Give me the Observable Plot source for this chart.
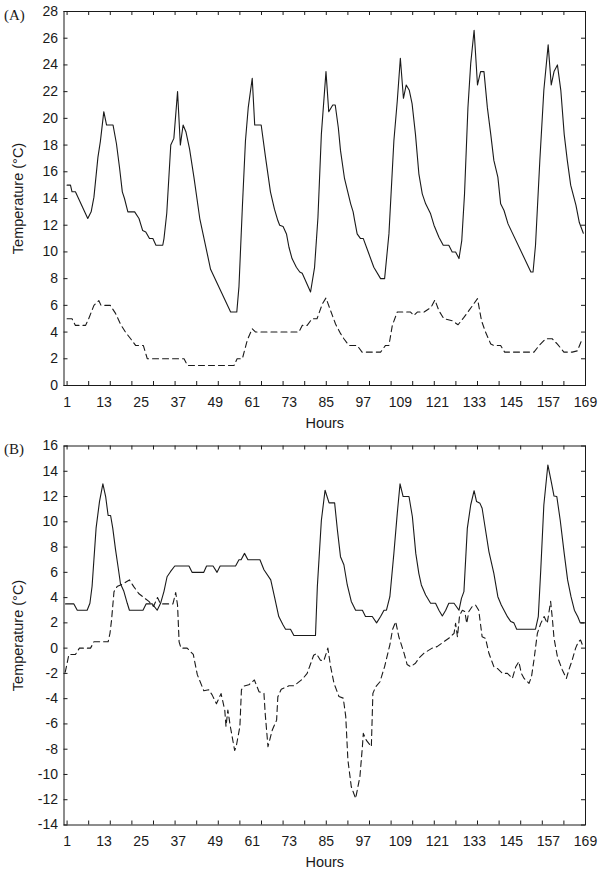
<!DOCTYPE html>
<html><head><meta charset="utf-8">
<script src="https://cdn.jsdelivr.net/npm/d3@7"></script>
<script src="https://cdn.jsdelivr.net/npm/@observablehq/plot@0.6"></script>
<style>
html,body{margin:0;padding:0;background:#fff;}
#chart svg{display:block;}
</style></head><body><div id="chart"></div>
<script>
// ---- Data ----
const xLabelTicks = [1, 13, 25, 37, 49, 61, 73, 85, 97, 109, 121, 133, 145, 157, 169];
const xMinorTicks = [1, 8, 15, 22, 29, 36, 43, 50, 57, 64, 71, 78, 85, 92, 99, 106, 113, 120, 127, 134, 141, 148, 155, 162, 169];
const yTicksA = [0, 2, 4, 6, 8, 10, 12, 14, 16, 18, 20, 22, 24, 26, 28];
const yTicksB = [-14, -12, -10, -8, -6, -4, -2, 0, 2, 4, 6, 8, 10, 12, 14, 16];

// Panel A, solid line
const aSolidHours = [1, 2.1, 2.6, 3.7, 7.7, 8.8, 9.7, 11, 11.8, 12.9, 13.8, 15.9, 17, 18, 18.9, 19.6, 20.7, 22.9, 24.3, 25.5, 26.5, 27.7, 28.8, 29.8, 32, 32.4, 33.3, 34.6, 35.6, 36.8, 37.7, 38.6, 39.5, 40.7, 42.1, 44, 47.5, 54, 56, 56.7, 57.8, 58.8, 59.7, 61, 61.8, 63.9, 65.3, 66.9, 68.2, 69.3, 69.9, 71, 72.1, 72.9, 73.9, 75.3, 76.4, 77.2, 79.9, 81.2, 82.3, 83.4, 84.9, 85.8, 87.1, 87.9, 88.9, 89.6, 90.9, 91.8, 92.9, 93.7, 94.2, 95, 96.1, 97, 98.8, 100.4, 102.6, 103.9, 105.3, 106.9, 108, 109, 110, 110.9, 111.9, 112.8, 113.9, 115, 116.1, 117.2, 118.8, 119.9, 121.5, 122.9, 124.7, 125.8, 126.9, 128, 128.9, 129.8, 130.9, 131.8, 132.9, 134, 135, 136.1, 137.2, 138.3, 139.3, 140.6, 141.5, 142.6, 143.9, 151.3, 152, 152.8, 154.2, 155.5, 156.9, 157.9, 158.8, 159.9, 161, 162.1, 163.1, 164.2, 165.9, 167, 168.3];
const aSolidTemps = [15, 15, 14.5, 14.5, 12.5, 13, 14.1, 17.1, 18.3, 20.5, 19.5, 19.5, 18.1, 16.3, 14.5, 14, 13, 13, 12.5, 11.6, 11.5, 11, 11, 10.5, 10.5, 11, 12.9, 18, 18.5, 22, 18, 19.5, 19, 17.7, 15.6, 12.5, 8.7, 5.5, 5.5, 7.4, 13.35, 18.3, 20.8, 23, 19.5, 19.5, 17.1, 14.5, 13.2, 12.35, 12, 11.9, 11.35, 10.35, 9.5, 8.85, 8.5, 8.4, 7, 8.85, 12.6, 18.8, 23.5, 20.5, 21, 21, 19.3, 17.6, 15.5, 14.65, 13.6, 13, 12.35, 11.35, 11, 11, 9.86, 8.85, 8, 8, 11.35, 18.3, 21.3, 24.5, 21.5, 22.5, 22.1, 21.1, 18.8, 15.85, 14.35, 13.6, 12.85, 12, 11.1, 10.5, 10.5, 10, 10, 9.5, 10.85, 14.35, 20.8, 24.1, 26.6, 22.5, 23.5, 23.5, 20.8, 18.8, 16.85, 15.6, 13.6, 13.1, 12.1, 8.5, 8.5, 10.5, 16.85, 22.1, 25.5, 22.5, 23.5, 24, 22.1, 18.8, 16.85, 15, 13.5, 12.2, 11.4];

// Panel A, dashed line
const aDashHours = [1, 2.6, 3.7, 7, 8, 9.7, 11.3, 12, 15, 16.7, 18.3, 19.9, 21.6, 23.2, 25.7, 27, 38.9, 40, 55.1, 56.1, 57.8, 59.4, 61, 62.1, 76.1, 77.2, 78.8, 80.4, 82, 83.7, 84.9, 86.4, 88, 89.6, 90.7, 92.3, 95, 96.6, 102.6, 104.2, 105.3, 106.4, 108, 112.3, 113.4, 114.5, 116.7, 118.3, 119.3, 120.2, 121.5, 123.1, 125.8, 127.7, 129.6, 131.2, 134, 135.3, 136.6, 138.3, 139.3, 141.5, 142.8, 152.3, 154, 156.1, 158.2, 159.9, 162, 164.7, 166.4, 167.6];
const aDashTemps = [5, 5, 4.5, 4.5, 5, 6, 6.35, 6, 6, 5.4, 4.6, 4, 3.5, 3, 3, 2, 2, 1.5, 1.5, 2, 2, 3.4, 4.25, 4, 4, 4.5, 4.5, 5, 5, 6.1, 6.55, 5.6, 4.6, 3.9, 3.5, 3, 3, 2.5, 2.5, 3, 3, 4.5, 5.5, 5.5, 5.25, 5.5, 5.5, 5.75, 6, 6.4, 5.6, 5, 4.85, 4.55, 5.1, 5.6, 6.5, 4.85, 4, 3.1, 3, 3, 2.5, 2.5, 3, 3.5, 3.5, 3.1, 2.5, 2.5, 2.6, 3.3];

// Panel B, solid line
const bSolidHours = [0.5, 3.2, 4.3, 7.5, 8.4, 9.1, 10.4, 11.5, 12.6, 13.5, 14.3, 15.1, 15.8, 16.7, 17.6, 18.3, 19.4, 20.5, 21.2, 25.6, 26.6, 28.6, 30.2, 31.3, 32.4, 33.4, 34.5, 35.9, 40.5, 41.5, 45.3, 46.2, 48.3, 49.6, 50.6, 55.6, 56.7, 57.4, 58.5, 59.6, 63.5, 64.8, 67, 68.2, 69.6, 71, 71.8, 73.4, 74.5, 81.5, 82.1, 83.4, 84.6, 85.9, 87.7, 88.6, 89.6, 90.7, 91.8, 93.1, 94.5, 96.7, 97.7, 99.9, 101.3, 102.6, 103.7, 104.5, 105.6, 106.9, 108, 108.9, 109.9, 111.8, 112.9, 114, 115, 115.8, 117.2, 118.8, 120.4, 121.5, 122.6, 123.7, 124.7, 126.4, 128, 128.8, 129.6, 130.7, 131.8, 132.9, 133.7, 134.8, 135.5, 136.6, 137.7, 139.3, 140.6, 141.7, 143.7, 144.8, 145.8, 146.7, 152.8, 153.7, 154.5, 155.5, 156.8, 157.9, 158.8, 159.7, 160.8, 162.1, 163.2, 164.3, 165.4, 166.5, 167.3, 168.5];
const bSolidTemps = [3.5, 3.5, 3, 3, 3.55, 4.9, 9.5, 11.6, 13, 12, 10.5, 10.5, 9.5, 7.8, 6.3, 5.1, 4.5, 3.55, 3, 3, 3.5, 3.5, 3, 3.55, 4.5, 5.65, 6.05, 6.5, 6.5, 6, 6, 6.5, 6.5, 6, 6.5, 6.5, 7, 7, 7.5, 7, 7, 6.2, 5.4, 4.07, 2.5, 1.83, 1.5, 1.5, 1, 1, 4.87, 10.1, 12.5, 11.5, 11.5, 9.35, 7.24, 6.6, 5, 3.7, 3, 3, 2.5, 2.5, 2, 2.5, 3, 3, 4.07, 7.5, 10.67, 13, 12, 12, 10.4, 7.5, 5.9, 5, 4.2, 3.55, 3.55, 3, 2.55, 3, 3.55, 3.55, 3, 3.94, 4.47, 9.48, 11.33, 12.46, 11.6, 11.46, 11.07, 9.35, 7.64, 5.92, 4.07, 3.41, 2.49, 2.1, 2, 1.5, 1.5, 2.49, 6.18, 11.33, 14.5, 13.18, 12.04, 12, 10.14, 7.5, 5.4, 4.07, 3, 2.49, 2, 2];

// Panel B, dashed line
const bDashHours = [0.4, 1.6, 3.7, 5, 8.6, 9.7, 14.3, 14.9, 15.4, 16.2, 17.2, 18.3, 19.4, 21.2, 22.6, 24.3, 25.9, 27.5, 29, 30.3, 31.3, 35.3, 36.2, 36.8, 37.3, 37.9, 39.9, 41.9, 43.2, 45.3, 46.9, 48, 49.4, 50.9, 52.1, 52.5, 53.1, 53.9, 55.3, 55.8, 57, 57.5, 58.3, 59.9, 61.7, 63.2, 64.8, 65.2, 66.1, 67.5, 68.9, 69.3, 70.4, 72.9, 74.5, 77.2, 78.8, 80.9, 81.8, 83.1, 84.2, 85.5, 86.4, 87.5, 89.1, 90.5, 91.3, 92, 93.1, 94.5, 95.9, 96.7, 97, 98, 99.6, 100.1, 101, 102.4, 103.9, 105.6, 106.5, 107.5, 108.5, 110.2, 111.2, 112.3, 113.9, 115, 116.6, 119.3, 120.9, 123.1, 124.7, 126.4, 126.9, 127.5, 128.2, 129.1, 129.9, 130.5, 131.2, 132.3, 133.4, 134.4, 135.5, 136.6, 137.7, 139.3, 140.4, 142.1, 143.7, 145.3, 146.4, 147.4, 148.2, 149.1, 150.7, 151.5, 152.3, 153.4, 154.5, 155.6, 156.6, 157.7, 158.3, 158.8, 159.9, 161.5, 162.8, 163.6, 164.7, 165.8, 166.7, 167.4, 168];
const bDashTemps = [-1.9, -0.5, -0.5, 0, 0, 0.5, 0.5, 1.17, 2.2, 4.47, 4.87, 5, 5.13, 5.4, 4.87, 4.3, 4, 3.7, 3.3, 4, 3.5, 3.5, 4.4, 3.4, 0.5, 0, 0, -0.5, -2.1, -3.37, -3.3, -3.7, -4.4, -3.6, -4.9, -6.2, -4.9, -6.2, -8.1, -7.8, -6.2, -3.3, -3, -2.9, -2.52, -3.45, -3.58, -5.17, -7.8, -6.48, -5.7, -3.85, -3.26, -2.98, -2.98, -2.47, -2, -0.56, -0.43, -0.96, -1, 0, -1.46, -2.78, -3.83, -3.96, -5.4, -8.85, -10.97, -11.9, -10.17, -7.8, -6.75, -7.3, -7.8, -3.58, -3.06, -2.66, -1.46, 0.26, 1.5, 2.1, 0.9, -0.4, -1.3, -1.47, -1.2, -0.8, -0.41, 0, 0.12, 0.51, 0.78, 1.17, 1.96, 0.9, 2.6, 3, 2.9, 1.96, 2.9, 3.3, 3.4, 3, 0.9, 0.78, -0.41, -1.47, -1.6, -2, -2, -2.4, -1.47, -1.07, -2, -2.4, -2.79, -2.26, -0.94, 1.17, 1.96, 2.5, 1.96, 3.7, 2.23, 0.78, -0.68, -1.73, -2.4, -1.73, -0.94, 0, 0.51, 0.64, 0.25];

const xDomain = [0, 169];
const yDomainA = [0, 28];
const yDomainB = [-14, 16];
const yLabel = "Temperature (°C)";
const xLabel = "Hours";

const zip = (h, t) => h.map((d, i) => ({hour: d, temp: t[i]}));

function panel({solid, dashed, yDomain, yTicks, height, mTop, mBottom, tag}) {
  const mL = 63.5, mR = 17, W = 602;
  const plotW = W - mL - mR, plotH = height - mTop - mBottom;
  const tk = 4;
  const ink = "#1a1a1a";
  return Plot.plot({
    width: W, height,
    marginTop: mTop, marginBottom: mBottom, marginLeft: mL, marginRight: mR,
    style: {fontFamily: "'Liberation Sans', Arial, Helvetica, sans-serif", fontSize: "14px", color: ink, background: "#fff", overflow: "visible"},
    x: {domain: xDomain},
    y: {domain: yDomain},
    marks: [
      Plot.line(solid, {x: "hour", y: "temp", stroke: ink, strokeWidth: 1.1}),
      Plot.line(dashed, {x: "hour", y: "temp", stroke: ink, strokeWidth: 1.1, strokeDasharray: "6,4"}),
      Plot.tickY(yTicks, {y: d => d, stroke: ink, insetRight: plotW - tk}),
      Plot.tickY(yTicks, {y: d => d, stroke: ink, insetLeft: plotW - tk}),
      Plot.tickX(xMinorTicks, {x: d => d, stroke: ink, insetTop: plotH - tk}),
      Plot.tickX(xMinorTicks, {x: d => d, stroke: ink, insetBottom: plotH - tk}),
      Plot.frame({stroke: ink, strokeWidth: 1}),
      Plot.axisY(yTicks, {tickSize: 0, tickPadding: 6, tickFormat: d => String(d), label: null, fontSize: 14}),
      Plot.axisX(xLabelTicks, {tickSize: 0, tickPadding: 11.5, tickFormat: d => String(d), label: null, fontSize: 14}),
      Plot.text([yLabel], {text: d => d, frameAnchor: "left", dx: -46, rotate: -90, fontSize: 14.5, lineAnchor: "middle", textAnchor: "middle", fill: ink}),
      Plot.text([xLabel], {text: d => d, frameAnchor: "bottom", dy: 37.4, fontSize: 14.5, lineAnchor: "middle", fill: ink}),
      Plot.text([tag], {text: d => d, frameAnchor: "top-left", dx: -60, dy: 3.2, textAnchor: "start", lineAnchor: "middle", fontFamily: "'Liberation Serif', 'Times New Roman', serif", fontSize: 15, fill: ink})
    ]
  });
}

const chart = document.getElementById("chart");
chart.appendChild(panel({
  solid: zip(aSolidHours, aSolidTemps), dashed: zip(aDashHours, aDashTemps),
  yDomain: yDomainA, yTicks: yTicksA, height: 430, mTop: 11, mBottom: 45, tag: "(A)"
}));
chart.appendChild(panel({
  solid: zip(bSolidHours, bSolidTemps), dashed: zip(bDashHours, bDashTemps),
  yDomain: yDomainB, yTicks: yTicksB, height: 446, mTop: 15.5, mBottom: 51.5, tag: "(B)"
}));
</script>
</body></html>
